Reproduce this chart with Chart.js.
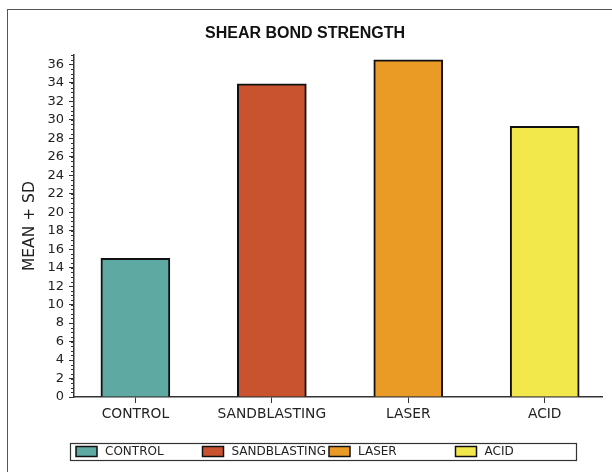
<!DOCTYPE html>
<html>
<head>
<meta charset="utf-8">
<script src="https://cdn.jsdelivr.net/npm/chart.js@4.4.1/dist/chart.umd.min.js"></script>
<style>
  html, body { margin: 0; padding: 0; background: #fff; overflow: hidden; }
  #wrap { position: relative; width: 612px; height: 472px; }
  #frame { position: absolute; left: 7px; top: 9px; width: 700px; height: 600px;
           border: 1.5px solid #555; box-sizing: border-box; }
  canvas { position: absolute; left: 0; top: 0; }
</style>
</head>
<body>
<div id="wrap">
  <div id="frame"></div>
  <canvas id="c" width="612" height="472"></canvas>
</div>
<script>
// Shear bond strength by surface treatment
const categories = ['CONTROL', 'SANDBLASTING', 'LASER', 'ACID'];
const meanValues = [15.0, 33.9, 36.5, 29.3];
const barColors = ['#5ea9a1', '#c9532f', '#e99b26', '#f2e84c'];
const yTickValues = [0, 2, 4, 6, 8, 10, 12, 14, 16, 18, 20, 22, 24, 26, 28, 30, 32, 34, 36];

// minor tick marks every 0.5 on the value axis
const minorTicks = {
  id: 'minorTicks',
  afterDatasetsDraw(chart) {
    const y = chart.scales.y;
    const ctx = chart.ctx;
    const x0 = y.right;
    ctx.save();
    ctx.strokeStyle = '#333';
    ctx.lineWidth = 1;
    ctx.beginPath();
    for (let v = 0; v <= y.max + 1e-9; v += 0.5) {
      const py = Math.round(y.getPixelForValue(v)) + 0.5;
      ctx.moveTo(x0 - 3, py);
      ctx.lineTo(x0, py);
    }
    ctx.stroke();
    ctx.restore();
  }
};

// boxed legend with evenly spaced entries
const boxedLegend = {
  id: 'boxedLegend',
  afterDraw(chart, args, opts) {
    const ctx = chart.ctx;
    const { left, top, width, height } = opts;
    ctx.save();
    ctx.strokeStyle = '#333';
    ctx.lineWidth = 1.2;
    ctx.strokeRect(left + 0.5, top + 0.5, width, height);
    const col = width / categories.length;
    ctx.font = '12px "DejaVu Sans", Verdana, sans-serif';
    ctx.textBaseline = 'middle';
    categories.forEach((name, i) => {
      const sx = left + 6 + i * col;
      const sy = top + height / 2 - 5;
      ctx.fillStyle = barColors[i];
      ctx.fillRect(sx, sy, 21, 10);
      ctx.strokeStyle = '#111';
      ctx.lineWidth = 1.5;
      ctx.strokeRect(sx, sy, 21, 10);
      ctx.fillStyle = '#222';
      ctx.fillText(name, sx + 29, top + height / 2 + 0.5);
    });
    ctx.restore();
  }
};

new Chart(document.getElementById('c'), {
  type: 'bar',
  data: {
    datasets: [{
      data: meanValues.map((v, i) => ({ x: i, y: v })),
      backgroundColor: barColors,
      borderColor: '#111',
      borderWidth: 2,
      borderSkipped: 'bottom',
      barThickness: 69
    }]
  },
  plugins: [minorTicks, boxedLegend],
  options: {
    responsive: false,
    animation: false,
    layout: { padding: { left: 8, right: 10, top: 0, bottom: 0 } },
    plugins: {
      legend: { display: false },
      tooltip: { enabled: false },
      title: {
        display: true,
        text: 'SHEAR BOND STRENGTH',
        color: '#111',
        font: { family: '"Liberation Sans", Arial, sans-serif', size: 16, weight: 'bold' },
        padding: { top: 24, bottom: 12 }
      },
      boxedLegend: { left: 70, top: 443, width: 506, height: 17 }
    },
    scales: {
      x: {
        type: 'linear',
        offset: false,
        min: -0.45,
        max: 3.42,
        afterBuildTicks(scale) {
          scale.ticks = categories.map((c, i) => ({ value: i }));
        },
        afterFit(scale) { scale.height = 75; },
        grid: { offset: false, drawOnChartArea: false, drawTicks: true, tickLength: 6, color: '#333' },
        border: { display: true, color: '#333', width: 1.5 },
        ticks: {
          autoSkip: false,
          maxRotation: 0,
          padding: 3,
          color: '#222',
          font: { family: '"DejaVu Sans", Verdana, sans-serif', size: 13.8 },
          callback: (v) => categories[v]
        }
      },
      y: {
        min: 0,
        max: 37,
        afterBuildTicks(scale) {
          scale.ticks = yTickValues.map(v => ({ value: v }));
        },
        afterFit(scale) { scale.width = 66; },
        grid: { drawOnChartArea: false, drawTicks: true, tickLength: 5, color: '#333' },
        border: { display: true, color: '#333', width: 1.5 },
        ticks: {
          padding: 5,
          color: '#222',
          font: { family: '"DejaVu Sans", Verdana, sans-serif', size: 13 }
        },
        title: {
          display: true,
          text: 'MEAN + SD',
          color: '#222',
          padding: { top: 13, bottom: 0 },
          font: { family: '"DejaVu Sans", Verdana, sans-serif', size: 15.5 }
        }
      }
    }
  }
});
</script>
</body>
</html>
